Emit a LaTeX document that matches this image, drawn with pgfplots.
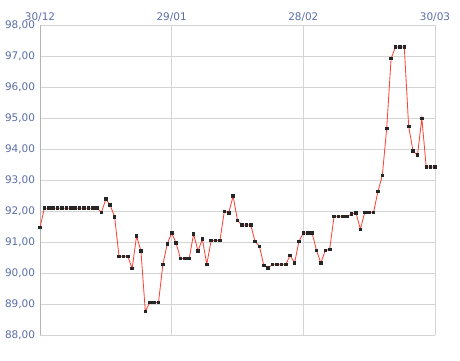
\documentclass[border=0pt]{standalone}
\usepackage{pgfplots}
\pgfplotsset{compat=1.18}
\usepackage{fontspec}
\setmainfont{DejaVu Sans}
\definecolor{lblc}{HTML}{5A6EA8}
\definecolor{gridc}{HTML}{D4D4D4}
\definecolor{linec}{HTML}{FF4438}
\begin{document}
\begin{tikzpicture}
\begin{axis}[
  scale only axis, width=395bp, height=310bp,
  xmin=0, xmax=90, ymin=88, ymax=98,
  axis x line*=top, axis y line*=left,
  x axis line style={draw=none},
  y axis line style={draw=gridc!85!black},
  xtick={0,30,60,90},
  xticklabels={30/12,29/01,28/02,30/03},
  ytick={88,89,...,98},
  major tick length=0pt,
  grid=major, grid style={gridc, line width=0.8pt},
  tick label style={font=\fontsize{10.5}{12}\selectfont, text=lblc},
  /pgf/number format/assume math mode=true,
  yticklabel={\pgfmathprintnumber[fixed,fixed zerofill,precision=2,use comma]{\tick}},
  yticklabel style={xshift=-1.5bp},
  clip=false,
]
\addplot[color=linec, line width=0.85pt, mark=square*, mark size=1.3bp, mark options={draw=black!85, fill=black!85}] coordinates {
(0,91.47)(1,92.09)(2,92.09)(3,92.09)(4,92.09)(5,92.09)(6,92.09)(7,92.09)(8,92.09)(9,92.09)(10,92.09)(11,92.09)(12,92.09)(13,92.09)
(14,91.96)(15,92.38)(16,92.19)(17,91.81)(18,90.54)(19,90.54)(20,90.54)(21,90.15)(22,91.19)(23,90.71)(24,88.76)(25,89.05)(26,89.05)(27,89.05)
(28,90.28)(29,90.94)(30,91.29)(31,90.97)(32,90.47)(33,90.47)(34,90.47)(35,91.26)(36,90.71)(37,91.09)(38,90.28)(39,91.05)(40,91.05)(41,91.05)
(42,91.99)(43,91.94)(44,92.48)(45,91.70)(46,91.55)(47,91.55)(48,91.55)(49,91.02)(50,90.86)(51,90.24)(52,90.16)(53,90.28)(54,90.28)(55,90.28)(56,90.28)
(57,90.57)(58,90.32)(59,91.02)(60,91.29)(61,91.29)(62,91.29)(63,90.73)(64,90.32)(65,90.73)(66,90.76)(67,91.83)(68,91.83)(69,91.83)(70,91.83)
(71,91.90)(72,91.94)(73,91.41)(74,91.96)(75,91.96)(76,91.96)(77,92.63)(78,93.15)(79,94.67)(80,96.92)(81,97.29)(82,97.29)(83,97.29)
(84,94.73)(85,93.93)(86,93.80)(87,94.99)(88,93.42)(89,93.42)(90,93.42)
};
\end{axis}
\path (current axis.south west) ++(-40bp,-25bp) coordinate (bbA);
\path (current axis.north east) ++(25bp,25bp) coordinate (bbB);
\path[draw=none] (bbA) rectangle (bbB);
\end{tikzpicture}
\end{document}
